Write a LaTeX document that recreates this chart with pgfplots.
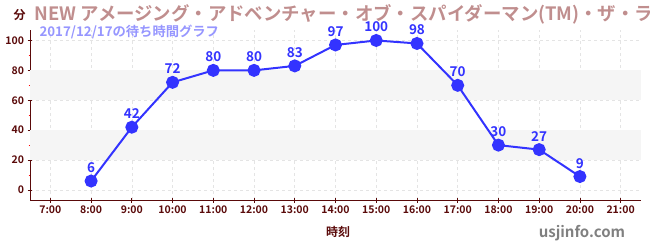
\documentclass[border=0pt]{standalone}
\usepackage{pgfplots}
\pgfplotsset{compat=1.18}
\usepackage{fontspec}
\setmainfont{Noto Sans CJK JP}[BoldFont={* Bold}]
\definecolor{titlec}{RGB}{192,142,142}
\definecolor{subc}{RGB}{150,150,255}
\definecolor{linec}{RGB}{51,51,255}
\definecolor{axc}{RGB}{90,10,10}
\definecolor{bandc}{RGB}{245,245,245}
\definecolor{gridc}{RGB}{228,228,228}
\begin{document}
\begin{tikzpicture}
\useasboundingbox (0pt,0pt) rectangle (650pt,250pt);
\begin{axis}[
  at={(30pt,50pt)}, anchor=south west,
  scale only axis, width=611pt, height=170pt,
  xmin=6.5, xmax=21.5, ymin=-6.7, ymax=107,
  axis line style={axc, line width=1pt},
  axis x line*=bottom, axis y line*=left,
  xtick={7,...,21},
  xticklabels={7:00,8:00,9:00,10:00,11:00,12:00,13:00,14:00,15:00,16:00,17:00,18:00,19:00,20:00,21:00},
  ytick={0,20,...,100},
  minor ytick={10,30,50,70,90},
  tick style={axc, line width=0.8pt},
  minor tick style={red, line width=0.8pt},
  major tick length=5pt, minor tick length=3pt,
  tick align=center,
  ticklabel style={font=\bfseries\fontsize{10.5}{12}\selectfont, text=axc},
  /pgf/number format/assume math mode=true,
  grid=major,
  major grid style={gridc, dashed, line width=0.6pt},
  nodes near coords,
  every node near coord/.append style={font=\bfseries\fontsize{13.5}{15}\selectfont, text=linec, yshift=4pt},
  clip=false,
]
\fill[bandc] (axis cs:6.5,20) rectangle (axis cs:21.5,40);
\fill[bandc] (axis cs:6.5,60) rectangle (axis cs:21.5,80);
\addplot[linec, line width=2pt, mark=*, mark size=5.5pt, mark options={fill=linec, draw=linec}] coordinates {
(8,6) (9,42) (10,72) (11,80) (12,80) (13,83) (14,97) (15,100) (16,98) (17,70) (18,30) (19,27) (20,9)};
\end{axis}
\node[anchor=west, text=axc, font=\bfseries\fontsize{12}{14}\selectfont] at (10pt,235pt) {分};
\node[anchor=west, text=titlec, font=\bfseries\fontsize{18.4}{20}\selectfont] at (31pt,236pt) {NEW アメージング・アドベンチャー・オブ・スパイダーマン(TM)・ザ・ライド};
\node[anchor=west, text=subc, font=\bfseries\fontsize{13.3}{15}\selectfont] at (36pt,218pt) {2017/12/17の待ち時間グラフ};
\node[text=axc, font=\bfseries\fontsize{12}{14}\selectfont] at (338pt,18pt) {時刻};
\node[text=gray, font=\bfseries\fontsize{15}{18}\selectfont] at (582pt,17pt) {usjinfo.com};
\end{tikzpicture}
\end{document}
